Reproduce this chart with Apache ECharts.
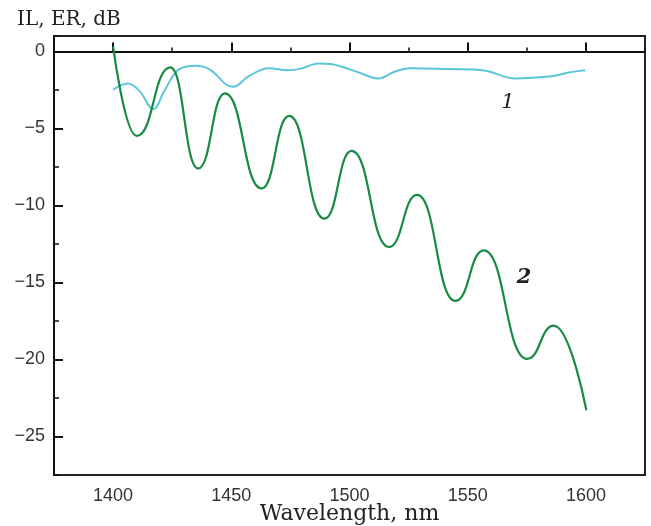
<!DOCTYPE html>
<html>
<head>
<meta charset="utf-8">
<script src="https://cdn.jsdelivr.net/npm/echarts@6/dist/echarts.min.js"></script>
<style>
  html, body { margin: 0; padding: 0; background: #fff; }
  #chart { width: 651px; height: 526px; }
</style>
</head>
<body>
<div id="chart"></div>
<script>
// curve 1 (cyan) - wavelength nm / dB
const wl1 = [1400, 1406.2, 1411.1, 1417.0, 1421.7, 1428.0, 1435.7, 1440.7, 1450.8, 1457.6, 1466.0, 1473.7, 1478.7, 1487.1, 1492.7, 1499.8, 1504.0, 1512.4, 1518.5, 1525.8, 1542.0, 1556.1, 1570.2, 1585.6, 1592.7, 1599.7];
const il1 = [-2.49, -2.08, -2.56, -3.75, -2.56, -1.15, -0.93, -1.15, -2.30, -1.59, -1.09, -1.22, -1.15, -0.78, -0.83, -1.15, -1.37, -1.76, -1.35, -1.09, -1.15, -1.22, -1.76, -1.62, -1.37, -1.22];

// curve 2 (green) - turning points
const wl2 = [1400, 1410.0, 1424.2, 1436.0, 1447.3, 1462.8, 1474.5, 1489.4, 1500.9, 1516.7, 1528.6, 1544.8, 1556.8, 1575.1, 1586.4, 1600.2];
const er2 = [0.33, -5.49, -1.04, -7.6, -2.73, -8.9, -4.19, -10.86, -6.46, -12.7, -9.32, -16.2, -12.92, -19.96, -17.8, -23.3];

const xTicks = [1400, 1450, 1500, 1550, 1600];
const yTicks = [0, -5, -10, -15, -20, -25];

// plot frame (px)
const W = 651, H = 526;
const gl = 54, gr = 6, gt = 36, gb = 51;
const xMin = 1375, xMax = 1625, yMin = -27.5, yMax = 1;

const pxX = (gW => v => gl + (v - xMin) / (xMax - xMin) * gW)(W - gl - gr);
const pxY = (gH => v => gt + (yMax - v) / (yMax - yMin) * gH)(H - gt - gb);

const x0 = pxX(xTicks[0]), x1 = pxX(xTicks[xTicks.length - 1]);
const y0 = pxY(yTicks[0]), y1 = pxY(yTicks[yTicks.length - 1]);

const minus = v => v < 0 ? '\u2212' + Math.abs(v) : String(v);
const numFont = "'Liberation Sans Narrow', 'Liberation Sans', Arial, sans-serif";
const serif = "'DejaVu Serif', 'Liberation Serif', serif";

const pairs = (xs, ys) => xs.map((x, i) => [x, ys[i]]);

// invisible anchor with a text label, placed in data coords
const curveTag = (text, coord, extra) => ({
  symbol: 'rect', symbolSize: 1,
  itemStyle: { color: 'transparent' },
  data: [{ coord: coord }],
  label: Object.assign({
    show: true, position: 'inside', formatter: text,
    fontFamily: serif, fontStyle: 'italic', fontSize: 21, color: '#222'
  }, extra)
});

const chart = echarts.init(document.getElementById('chart'));
chart.setOption({
  animation: false,
  backgroundColor: '#fff',
  title: {
    text: 'IL, ER, dB',
    left: 12, top: 5,
    textStyle: { fontFamily: serif, fontSize: 20, fontWeight: 'normal', color: '#222' }
  },
  grid: [
    { left: gl, right: gr, top: gt, bottom: gb, outerBoundsMode: 'none', show: true, borderColor: '#222', borderWidth: 2, backgroundColor: 'transparent' },
    // overlay grid just for the long (labeled) ticks
    { left: x0, right: W - x1, top: y0, bottom: H - y1, outerBoundsMode: 'none', show: false }
  ],
  xAxis: [
    {
      gridIndex: 0, type: 'value', min: xMin, max: xMax, interval: 25,
      name: 'Wavelength, nm', nameLocation: 'middle', nameGap: 28,
      nameTextStyle: { fontFamily: serif, fontSize: 22, color: '#222' },
      axisLine: { show: true, lineStyle: { color: '#111', width: 2 } },
      axisTick: { show: true, inside: true, length: 4, lineStyle: { color: '#111', width: 1.5 } },
      axisLabel: { show: false },
      splitLine: { show: false }
    },
    {
      gridIndex: 1, type: 'value', min: xTicks[0], max: xTicks[xTicks.length - 1], interval: 50,
      offset: pxY(yMin) - y1,
      axisLine: { show: false },
      axisTick: { show: true, inside: true, length: 9, lineStyle: { color: '#111', width: 2 } },
      axisLabel: { show: true, margin: 12, fontFamily: numFont, fontSize: 18, color: '#333', formatter: v => String(v) },
      splitLine: { show: false }
    }
  ],
  yAxis: [
    {
      gridIndex: 0, type: 'value', min: yMin, max: yMax, interval: 2.5,
      axisLine: { show: true, lineStyle: { color: '#111', width: 2 } },
      axisTick: { show: true, inside: true, length: 5, lineStyle: { color: '#111', width: 1.5 } },
      axisLabel: { show: false },
      splitLine: { show: false }
    },
    {
      gridIndex: 1, type: 'value', min: yTicks[yTicks.length - 1], max: yTicks[0], interval: 5,
      offset: x0 - gl,
      axisLine: { show: false },
      axisTick: { show: true, inside: true, length: 9, lineStyle: { color: '#111', width: 2 } },
      axisLabel: { show: true, margin: 9, fontFamily: numFont, fontSize: 18, color: '#333', formatter: minus },
      splitLine: { show: false }
    }
  ],
  series: [
    {
      name: '1', type: 'line', xAxisIndex: 0, yAxisIndex: 0,
      data: pairs(wl1, il1), smooth: 0.4, showSymbol: false,
      lineStyle: { color: '#5cc7d6', width: 2 },
      markPoint: curveTag('1', [1567, -3.3], {})
    },
    {
      name: '2', type: 'line', xAxisIndex: 0, yAxisIndex: 0,
      data: pairs(wl2, er2), smooth: 0.5, smoothMonotone: 'x', showSymbol: false,
      lineStyle: { color: '#178a46', width: 2.2 },
      markPoint: curveTag('2', [1573.8, -14.7], { fontWeight: 'bold' })
    }
  ]
});
</script>
</body>
</html>
